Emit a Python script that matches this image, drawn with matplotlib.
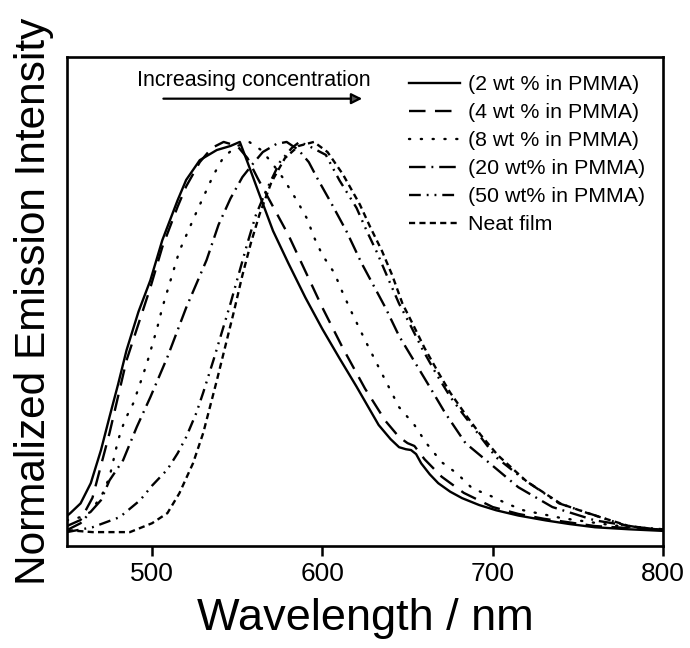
"""
Normalized emission spectra of films at different concentrations in PMMA
"""
import matplotlib
matplotlib.use("Agg")
import matplotlib.pyplot as plt

plt.rcParams['font.family'] = ['Liberation Sans', 'DejaVu Sans']

# 2 wt % in PMMA
wl_2 = [450, 452, 458, 464, 470, 475, 480, 485, 492, 499, 506, 515, 520, 528, 538, 546, 551.5,
        556, 563, 571, 580, 590, 600, 610, 620, 633, 640, 645, 649, 652, 655, 658, 663, 668,
        675, 682, 692, 702, 715, 731, 745, 760, 780, 800]
int_2 = [0.075, 0.082, 0.106, 0.156, 0.238, 0.32, 0.40, 0.485, 0.58, 0.658, 0.757, 0.856, 0.906,
         0.955, 0.98, 0.99, 1.0, 0.95, 0.87, 0.78, 0.70, 0.615, 0.537, 0.465, 0.395, 0.30,
         0.265, 0.245, 0.24, 0.238, 0.228, 0.205, 0.178, 0.156, 0.135, 0.119, 0.102, 0.089,
         0.076, 0.064, 0.055, 0.047, 0.042, 0.038]

# 4 wt % in PMMA
wl_4 = [450, 458, 465, 475, 485, 499, 506, 515, 520, 528, 535, 542, 550, 556, 562, 571, 580,
        590, 600, 612, 625, 637, 645, 650, 654, 660, 670, 683, 700, 715, 730, 760, 800]
int_4 = [0.05, 0.065, 0.12, 0.28, 0.46, 0.64, 0.74, 0.84, 0.89, 0.95, 0.985, 1.0, 0.99, 0.96,
         0.91, 0.84, 0.77, 0.68, 0.59, 0.49, 0.39, 0.31, 0.27, 0.255, 0.248, 0.215, 0.172,
         0.132, 0.097, 0.08, 0.068, 0.05, 0.04]

# 8 wt % in PMMA
wl_8 = [450, 458, 464, 471, 475, 480, 484, 489, 493, 497, 503, 506, 516, 526, 536, 542, 550,
        557, 564, 570, 577, 585, 591, 595, 600, 607, 612, 617, 625, 633, 645, 654, 661, 670,
        679, 688, 698, 708, 718, 740, 770, 800]
int_8 = [0.064, 0.072, 0.085, 0.131, 0.171, 0.262, 0.312, 0.354, 0.403, 0.453, 0.54, 0.59,
         0.73, 0.826, 0.918, 0.963, 0.99, 1.0, 0.98, 0.95, 0.91, 0.855, 0.81, 0.765, 0.72,
         0.676, 0.626, 0.58, 0.51, 0.443, 0.344, 0.30, 0.255, 0.208, 0.18, 0.143, 0.126,
         0.106, 0.089, 0.07, 0.052, 0.04]

# 20 wt% in PMMA
wl_20 = [450, 458, 470, 475, 483, 491, 499, 509, 520, 532, 539, 546, 553, 559, 565, 573, 579,
         586, 592, 597, 605, 614, 623, 630, 637, 645, 655, 663, 672, 684, 696, 715, 735, 760,
         785, 800]
int_20 = [0.04, 0.057, 0.114, 0.163, 0.213, 0.295, 0.369, 0.468, 0.59, 0.708, 0.795, 0.86,
          0.913, 0.945, 0.975, 0.995, 1.0, 0.98, 0.95, 0.91, 0.85, 0.78, 0.70, 0.645, 0.59,
          0.52, 0.45, 0.394, 0.33, 0.255, 0.213, 0.146, 0.097, 0.064, 0.047, 0.042]

# 50 wt% in PMMA
wl_50 = [450, 465, 481, 493, 500, 509, 515, 520, 526, 530, 536, 546, 556, 561, 567, 575, 582,
         586.5, 592, 602, 610, 620, 626, 632, 639, 645, 651, 659, 667, 675, 682, 692, 702,
         719, 739, 756, 779, 800]
int_50 = [0.035, 0.047, 0.072, 0.114, 0.15, 0.19, 0.23, 0.27, 0.33, 0.38, 0.46, 0.60, 0.75,
          0.82, 0.88, 0.95, 0.985, 1.0, 0.99, 0.968, 0.905, 0.837, 0.78, 0.727, 0.658, 0.60,
          0.552, 0.485, 0.425, 0.37, 0.33, 0.275, 0.22, 0.163, 0.106, 0.082, 0.05, 0.04]

# Neat film
wl_neat = [450, 465, 487, 500, 509, 516, 524, 530, 538, 548, 553, 558, 563, 570, 578, 586, 595,
           603, 612, 622, 628, 635, 641, 647, 653, 660, 668, 675, 685, 693, 703, 720, 740, 757,
           780, 800]
int_neat = [0.04, 0.035, 0.035, 0.057, 0.082, 0.131, 0.205, 0.28, 0.41, 0.58, 0.67, 0.75,
            0.82, 0.90, 0.96, 0.99, 1.0, 0.975, 0.92, 0.845, 0.79, 0.73, 0.67, 0.60, 0.55,
            0.49, 0.43, 0.38, 0.32, 0.275, 0.225, 0.16, 0.105, 0.08, 0.05, 0.04]

labels = ['(2 wt % in PMMA)', '(4 wt % in PMMA)', '(8 wt % in PMMA)',
          '(20 wt% in PMMA)', '(50 wt% in PMMA)', 'Neat film']
styles = ['-', (0, (7, 4)), (0, (0.5, 4.5)), (0, (7, 2.5, 0.8, 2.5)),
          (0, (5, 2.5, 0.8, 2.5, 0.8, 2.5)), (0, (2.6, 1.8))]

fig = plt.figure(figsize=(6.9, 6.48), dpi=100)
ax = fig.add_axes([0.097, 0.157, 0.864, 0.755])

series = [(wl_2, int_2), (wl_4, int_4), (wl_8, int_8),
          (wl_20, int_20), (wl_50, int_50), (wl_neat, int_neat)]
for (x, y), lab, ls in zip(series, labels, styles):
    cap = 'round' if ls == styles[2] else 'butt'
    ax.plot(x, y, color='black', linestyle=ls, linewidth=1.7, label=lab,
            dash_capstyle=cap)

ax.set_xlim(450, 800)
ax.set_ylim(0, 1.21)
ax.set_xticks([500, 600, 700, 800])
ax.set_yticks([])
ax.tick_params(axis='x', direction='out', length=7, width=1.8, labelsize=19, pad=4)
for sp in ax.spines.values():
    sp.set_linewidth(1.9)

ax.set_xlabel('Wavelength / nm', fontsize=32.5, labelpad=9)
ax.set_ylabel('Normalized Emission Intensity', fontsize=30.5, labelpad=9)

ax.legend(loc='upper right', frameon=False, fontsize=15.4, handlelength=2.4,
          handletextpad=0.35, labelspacing=0.42, borderaxespad=0.45, borderpad=0.4)

ax.annotate('', xy=(625, 1.107), xytext=(505, 1.107),
            arrowprops=dict(arrowstyle='-|>', color='black', lw=1.6,
                            mutation_scale=16, fc='#555555'))
ax.text(560, 1.125, 'Increasing concentration', fontsize=15.5, ha='center', va='bottom')

plt.savefig('out.png', dpi=100)
